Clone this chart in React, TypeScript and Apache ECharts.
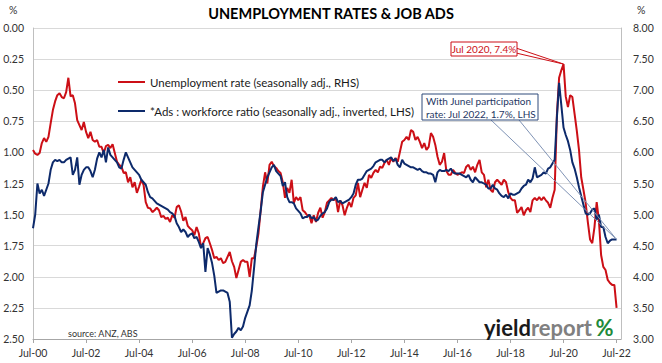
import React, { useEffect, useRef } from "react";
import * as echarts from "echarts";

// Monthly, Jul-2000 .. Jul-2022 (265 points)
const unemploymentRate: number[] = [
  6.04, 5.98, 5.96, 5.99, 6.15, 6.23, 6.17, 6.25, 6.47, 6.68, 6.82, 6.92,
  6.95, 6.89, 6.87, 6.97, 7.2, 6.9, 6.92, 6.79, 6.52, 6.44, 6.36, 6.49,
  6.33, 6.23, 6.33, 6.2, 6.17, 6.2, 6.09, 6.09, 5.99, 6.1, 6.12, 6.07,
  6.13, 5.99, 5.85, 5.8, 5.77, 5.67, 5.68, 5.52, 5.6, 5.44, 5.52, 5.35,
  5.45, 5.56, 5.48, 5.2, 5.11, 5.1, 5.04, 5.07, 5.11, 5.07, 4.96, 4.98,
  4.93, 4.95, 4.88, 4.99, 4.95, 5.12, 5.15, 5.05, 4.9, 4.96, 4.82, 4.78,
  4.75, 4.67, 4.8, 4.7, 4.48, 4.54, 4.62, 4.64, 4.54, 4.43, 4.3, 4.32,
  4.27, 4.3, 4.22, 4.24, 4.32, 4.4, 4.25, 4.16, 3.98, 4.11, 4.24, 4.27,
  4.24, 4.24, 4.0, 4.3, 4.3, 4.48, 4.7, 5.07, 5.45, 5.68, 5.5, 5.8,
  5.85, 5.78, 5.75, 5.7, 5.67, 5.52, 5.27, 5.43, 5.35, 5.56, 5.19, 5.28,
  5.23, 5.28, 5.07, 5.04, 4.99, 4.99, 4.86, 4.99, 4.88, 5.03, 5.11, 4.95,
  5.04, 5.19, 5.23, 5.27, 5.23, 5.27, 5.04, 5.23, 5.15, 4.99, 5.11, 5.2,
  5.12, 5.27, 5.31, 5.51, 5.28, 5.4, 5.51, 5.43, 5.64, 5.59, 5.67, 5.72,
  5.68, 5.77, 5.75, 5.83, 5.88, 5.8, 5.91, 5.85, 5.91, 5.85, 6.01, 6.17,
  6.2, 6.25, 6.2, 6.36, 6.33, 6.2, 6.25, 6.17, 6.07, 6.15, 6.04, 6.09,
  6.31, 6.25, 6.12, 5.93, 5.8, 5.85, 5.99, 5.7, 5.64, 5.64, 5.72, 5.67,
  5.64, 5.66, 5.68, 5.67, 5.77, 5.8, 5.72, 5.77, 5.68, 5.8, 5.88, 5.68,
  5.64, 5.44, 5.56, 5.4, 5.36, 5.52, 5.56, 5.52, 5.48, 5.56, 5.52, 5.36,
  5.27, 5.23, 5.23, 5.03, 5.07, 5.12, 4.99, 5.07, 5.11, 5.04, 5.23, 5.27,
  5.23, 5.28, 5.23, 5.28, 5.23, 5.19, 5.11, 5.27, 5.4, 6.6, 7.2, 7.32,
  7.42, 6.9, 6.73, 6.92, 6.89, 6.62, 6.35, 6.04, 5.6, 5.4, 5.19, 4.88,
  4.6, 4.54, 4.8, 5.2, 4.91, 4.35, 4.16, 4.11, 3.95, 3.9, 3.87, 3.87,
  3.5,
];

const adsWorkforceRatio: number[] = [
  1.61, 1.5, 1.25, 1.33, 1.3, 1.35, 1.3, 1.25, 1.14, 1.08, 1.06, 1.07,
  1.06, 1.08, 1.08, 1.06, 1.05, 1.04, 1.18, 1.14, 1.04, 1.26, 1.18, 1.14,
  1.12, 1.12, 1.15, 1.2, 1.14, 1.05, 1.0, 1.04, 0.98, 1.08, 0.96, 1.02,
  1.04, 1.06, 1.08, 1.12, 1.13, 1.06, 1.0, 1.04, 1.08, 1.12, 1.14, 1.16,
  1.18, 1.22, 1.24, 1.26, 1.32, 1.36, 1.37, 1.39, 1.41, 1.42, 1.43, 1.44,
  1.45, 1.46, 1.48, 1.49, 1.51, 1.57, 1.6, 1.64, 1.62, 1.64, 1.68, 1.66,
  1.65, 1.69, 1.68, 1.72, 1.77, 1.73, 1.96, 1.77, 1.82, 1.89, 1.99, 2.13,
  2.12, 2.11, 2.11, 2.12, 2.13, 2.2, 2.49, 2.46, 2.44, 2.41, 2.43, 2.4,
  2.33, 2.28, 2.23, 2.11, 1.93, 1.74, 1.6, 1.47, 1.32, 1.26, 1.2, 1.16,
  1.12, 1.1, 1.15, 1.17, 1.19, 1.27, 1.24, 1.36, 1.4, 1.4, 1.41, 1.45,
  1.47, 1.49, 1.53, 1.52, 1.52, 1.5, 1.53, 1.52, 1.55, 1.54, 1.51, 1.49,
  1.48, 1.45, 1.4, 1.38, 1.38, 1.36, 1.4, 1.39, 1.41, 1.4, 1.39, 1.38,
  1.36, 1.33, 1.26, 1.22, 1.22, 1.21, 1.18, 1.15, 1.14, 1.13, 1.11, 1.08,
  1.07, 1.06, 1.06, 1.08, 1.06, 1.05, 1.04, 1.07, 1.05, 1.1, 1.12, 1.06,
  1.09, 1.1, 1.11, 1.12, 1.12, 1.13, 1.14, 1.13, 1.15, 1.16, 1.16, 1.17,
  1.17, 1.18, 1.24, 1.16, 1.14, 1.15, 1.15, 1.14, 1.15, 1.13, 1.16, 1.17,
  1.17, 1.17, 1.18, 1.19, 1.2, 1.18, 1.22, 1.24, 1.2, 1.22, 1.24, 1.24,
  1.25, 1.26, 1.29, 1.29, 1.26, 1.29, 1.3, 1.33, 1.35, 1.36, 1.34, 1.37,
  1.33, 1.34, 1.34, 1.33, 1.32, 1.29, 1.27, 1.26, 1.22, 1.24, 1.21, 1.12,
  1.2, 1.19, 1.18, 1.16, 1.17, 1.13, 1.12, 1.09, 1.06, 0.72, 0.44, 0.62,
  0.8, 0.86, 0.91, 0.98, 1.08, 1.13, 1.2, 1.28, 1.35, 1.42, 1.49, 1.5,
  1.49, 1.46, 1.45, 1.54, 1.5, 1.6, 1.6, 1.68, 1.73, 1.71, 1.7, 1.7,
  1.7,
];

const MONTH_NAMES = ["Jan", "Feb", "Mar", "Apr", "May", "Jun", "Jul", "Aug", "Sep", "Oct", "Nov", "Dec"];
const START_MONTH = 6; // Jul
const START_YEAR = 2000;
const TOTAL_MONTHS = 267; // Jul-00 .. Sep-22 (axis runs slightly past last data point)
const categories: string[] = [];
for (let i = 0; i < TOTAL_MONTHS; i++) {
  const mi = START_MONTH + i;
  const yr = START_YEAR + Math.floor(mi / 12);
  categories.push(MONTH_NAMES[mi % 12] + "-" + String(yr % 100).padStart(2, "0"));
}

const peakIndex = 240; // Jul 2020
const lastIndex = 264; // Jul 2022

const FONT = 'Lato, "Open Sans", sans-serif';
const RED = "#cc0f16";
const NAVY = "#0d2a6b";

export default function App() {
  const ref = useRef<HTMLDivElement>(null);
  useEffect(() => {
    if (!ref.current) return;
    const chart = echarts.init(ref.current, undefined, { renderer: "svg" });
    const every24 = (i: number) => i % 24 === 0;
    chart.setOption({
      animation: false,
      textStyle: { fontFamily: FONT },
      grid: { left: 33, right: 41, top: 28, bottom: 24, containLabel: false },
      legend: {
        orient: "vertical",
        left: 113,
        top: 70,
        icon: "rect",
        itemWidth: 27,
        itemHeight: 2,
        itemGap: 15,
        textStyle: { fontFamily: FONT, fontSize: 11.5, color: "#1a1a1a", lineHeight: 14 },
        data: ["Unemployment rate (seasonally adj., RHS)", "*Ads : workforce ratio (seasonally adj., inverted, LHS)"],
      },
      xAxis: {
        type: "category",
        data: categories,
        boundaryGap: false,
        axisLine: { onZero: false, lineStyle: { color: "#a6a6a6" } },
        axisTick: { interval: every24, length: 4, lineStyle: { color: "#a6a6a6" } },
        axisLabel: { interval: every24, color: "#333", fontSize: 10.5, fontFamily: FONT, margin: 8 },
        splitLine: { show: false },
      },
      yAxis: [
        {
          type: "value",
          min: 0,
          max: 2.5,
          interval: 0.25,
          inverse: true,
          position: "left",
          axisLine: { show: true, lineStyle: { color: "#bfbfbf" } },
          axisTick: { show: false },
          axisLabel: { color: "#333", fontSize: 10.5, fontFamily: FONT, margin: 9, formatter: (v: number) => v.toFixed(2) },
          splitLine: { show: true, lineStyle: { color: "#d9d9d9", width: 1 } },
        },
        {
          type: "value",
          min: 3,
          max: 8,
          interval: 0.5,
          position: "right",
          axisLine: { show: true, lineStyle: { color: "#bfbfbf" } },
          axisTick: { show: false },
          axisLabel: { color: "#333", fontSize: 10.5, fontFamily: FONT, margin: 12, formatter: (v: number) => v.toFixed(2) },
          splitLine: { show: false },
        },
      ],
      series: [
        {
          name: "Unemployment rate (seasonally adj., RHS)",
          type: "line",
          yAxisIndex: 1,
          data: unemploymentRate,
          showSymbol: false,
          symbol: "none",
          lineStyle: { color: RED, width: 2 },
          itemStyle: { color: RED },
        },
        {
          name: "*Ads : workforce ratio (seasonally adj., inverted, LHS)",
          type: "line",
          yAxisIndex: 0,
          data: adsWorkforceRatio,
          showSymbol: false,
          symbol: "none",
          lineStyle: { color: NAVY, width: 2 },
          itemStyle: { color: NAVY },
        },
      ],
    });

    const peak = chart.convertToPixel({ xAxisIndex: 0, yAxisIndex: 1 }, [peakIndex, unemploymentRate[peakIndex]]) as number[];
    const last = chart.convertToPixel({ xAxisIndex: 0, yAxisIndex: 0 }, [lastIndex, adsWorkforceRatio[lastIndex]]) as number[];

    chart.setOption({
      graphic: [
        { type: "text", x: 331, y: 6, z: 100, style: { text: "UNEMPLOYMENT RATES & JOB ADS", font: `bold 14.5px ${FONT}`, fill: "#000", align: "center" } },
        { type: "text", x: 9, y: 4, z: 100, style: { text: "%", font: `10.5px ${FONT}`, fill: "#333" } },
        { type: "text", x: 637, y: 4, z: 100, style: { text: "%", font: `10.5px ${FONT}`, fill: "#333" } },
        // red callout
        { type: "polygon", z: 100, shape: { points: [[516, 48], [peak[0], peak[1]], [516, 53]] }, style: { fill: "#fff", stroke: RED, lineWidth: 1 } },
        { type: "rect", z: 101, shape: { x: 451, y: 42, width: 66, height: 14 }, style: { fill: "#fff", stroke: RED, lineWidth: 1 } },
        { type: "text", z: 102, x: 484, y: 49, style: { text: "Jul 2020, 7.4%", font: `10px ${FONT}`, fill: RED, align: "center", verticalAlign: "middle" } },
        // blue callout
        { type: "line", z: 100, shape: { x1: 491, y1: 120, x2: last[0], y2: last[1] }, style: { stroke: "#7f93b5", lineWidth: 1 } },
        { type: "line", z: 100, shape: { x1: 519, y1: 120, x2: last[0], y2: last[1] }, style: { stroke: "#7f93b5", lineWidth: 1 } },
        { type: "rect", z: 101, shape: { x: 422, y: 94, width: 116, height: 26 }, style: { fill: "#fff", stroke: "#2f4a7a", lineWidth: 1 } },
        { type: "text", z: 102, x: 426, y: 107, style: { text: "With Junel participation\nrate: Jul 2022, 1.7%, LHS", font: `10px ${FONT}`, fill: "#1f3864", verticalAlign: "middle", lineHeight: 13 } },
        // source
        { type: "text", z: 100, x: 68, y: 333, style: { text: "source: ANZ, ABS", font: `9px ${FONT}`, fill: "#333", verticalAlign: "middle" } },
        // logo
        {
          type: "text",
          z: 100,
          x: 484,
          y: 327,
          style: {
            text: "{a|yield}{b|report} {c|%}",
            verticalAlign: "middle",
            rich: {
              a: { font: `bold 22px ${FONT}`, fill: "#1a1a1a" },
              b: { font: `bold 22px ${FONT}`, fill: "#808080" },
              c: { font: `bold 22px ${FONT}`, fill: "#1e8a3a" },
            },
          },
        },
      ],
    });

    return () => chart.dispose();
  }, []);
  return <div ref={ref} style={{ position: "absolute", left: 0, top: 0, width: 662, height: 363 }} />;
}
